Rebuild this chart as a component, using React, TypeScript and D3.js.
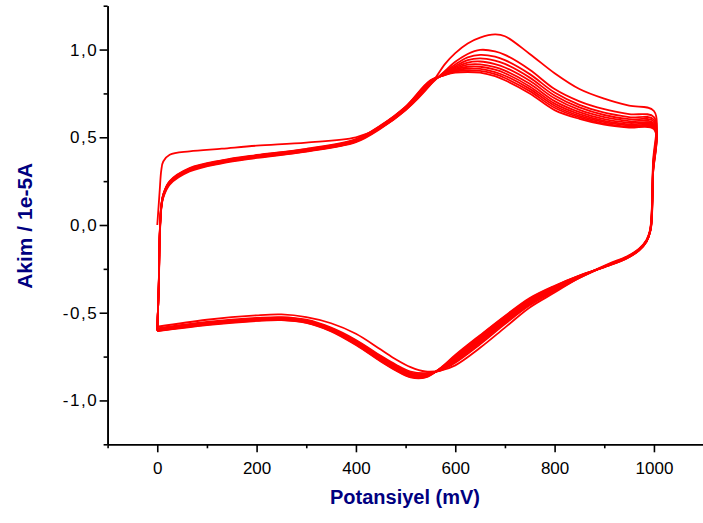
import React, { useEffect, useRef } from "react";
import * as d3 from "d3";

const WIDTH = 703;
const HEIGHT = 523;

// axis extents (mV and 1e-5 A)
const X_DOMAIN = [-100, 1100];
const Y_DOMAIN = [-1.25, 1.25];
const X_MAJOR = [0, 200, 400, 600, 800, 1000];
const X_MINOR = [-100, 100, 300, 500, 700, 900];
const Y_MAJOR = [-1.0, -0.5, 0, 0.5, 1.0];
const Y_MINOR = [-1.25, -0.75, -0.25, 0.25, 0.75, 1.25];

// potentials of the forward (anodic) sweep, mV
const FWD_X = [0, 3, 5, 8, 12, 25, 65, 130, 200, 300, 400, 450, 500, 550, 580, 600, 625, 650, 680, 700, 750, 800, 850, 900, 950, 1000];
// potentials of the reverse (cathodic) sweep, mV
const REV_X = [1000, 998, 995, 992, 985, 970, 945, 910, 850, 800, 750, 700, 650, 600, 570, 540, 510, 480, 450, 400, 350, 300, 250, 200, 100, 0];

// currents, 1e-5 A
const C1_FWD = [0.0, 0.12, 0.2, 0.31, 0.362, 0.4, 0.42, 0.435, 0.452, 0.47, 0.5, 0.555, 0.655, 0.8, 0.92, 0.98, 1.035, 1.068, 1.086, 1.076, 0.975, 0.865, 0.775, 0.72, 0.68, 0.65];
const C1_REV = [0.65, 0.35, 0.05, -0.03, -0.085, -0.135, -0.18, -0.22, -0.3, -0.385, -0.47, -0.585, -0.7, -0.8, -0.83, -0.835, -0.81, -0.765, -0.71, -0.62, -0.56, -0.525, -0.51, -0.515, -0.54, -0.58];
const C2_FWD = [-0.58, -0.36, -0.08, 0.09, 0.155, 0.23, 0.305, 0.352, 0.382, 0.418, 0.472, 0.55, 0.655, 0.8, 0.88, 0.93, 0.975, 0.998, 0.99, 0.97, 0.885, 0.775, 0.705, 0.66, 0.632, 0.615];
const C2_REV = [0.615, 0.33, 0.04, -0.035, -0.088, -0.138, -0.183, -0.223, -0.302, -0.378, -0.458, -0.565, -0.68, -0.785, -0.83, -0.845, -0.835, -0.795, -0.745, -0.655, -0.585, -0.54, -0.525, -0.53, -0.553, -0.59];
const C3_FWD = [-0.59, -0.355, -0.07, 0.095, 0.16, 0.235, 0.309, 0.355, 0.385, 0.42, 0.475, 0.553, 0.66, 0.805, 0.875, 0.915, 0.955, 0.97, 0.96, 0.94, 0.86, 0.755, 0.685, 0.64, 0.615, 0.6];
const C3_REV = [0.6, 0.32, 0.035, -0.037, -0.089, -0.139, -0.184, -0.224, -0.3, -0.373, -0.451, -0.557, -0.671, -0.778, -0.828, -0.849, -0.841, -0.801, -0.75, -0.66, -0.589, -0.543, -0.528, -0.533, -0.556, -0.593];
const C4_FWD = [-0.593, -0.35, -0.065, 0.098, 0.163, 0.238, 0.312, 0.357, 0.387, 0.422, 0.477, 0.556, 0.663, 0.81, 0.87, 0.905, 0.94, 0.95, 0.937, 0.918, 0.84, 0.738, 0.67, 0.627, 0.603, 0.59];
const C4_REV = [0.59, 0.31, 0.03, -0.038, -0.09, -0.14, -0.185, -0.225, -0.298, -0.368, -0.445, -0.55, -0.663, -0.771, -0.826, -0.853, -0.846, -0.806, -0.755, -0.664, -0.592, -0.546, -0.53, -0.535, -0.558, -0.596];
const C5_FWD = [-0.596, -0.348, -0.06, 0.1, 0.165, 0.24, 0.314, 0.359, 0.389, 0.424, 0.479, 0.558, 0.665, 0.812, 0.865, 0.898, 0.926, 0.932, 0.917, 0.898, 0.822, 0.722, 0.656, 0.615, 0.592, 0.58];
const C5_REV = [0.58, 0.305, 0.025, -0.039, -0.091, -0.141, -0.186, -0.226, -0.296, -0.364, -0.439, -0.543, -0.656, -0.765, -0.824, -0.856, -0.851, -0.811, -0.76, -0.668, -0.595, -0.548, -0.532, -0.537, -0.56, -0.598];
const C6_FWD = [-0.598, -0.346, -0.056, 0.102, 0.167, 0.242, 0.316, 0.361, 0.391, 0.426, 0.481, 0.56, 0.667, 0.815, 0.862, 0.892, 0.914, 0.916, 0.9, 0.88, 0.805, 0.706, 0.643, 0.603, 0.582, 0.572];
const C6_REV = [0.572, 0.3, 0.02, -0.04, -0.092, -0.142, -0.187, -0.227, -0.294, -0.36, -0.434, -0.537, -0.649, -0.759, -0.822, -0.859, -0.855, -0.815, -0.764, -0.672, -0.598, -0.55, -0.534, -0.539, -0.562, -0.6];
const C7_FWD = [-0.6, -0.344, -0.052, 0.104, 0.169, 0.244, 0.318, 0.363, 0.393, 0.428, 0.483, 0.562, 0.669, 0.817, 0.86, 0.886, 0.902, 0.902, 0.885, 0.865, 0.79, 0.692, 0.632, 0.594, 0.574, 0.565];
const C7_REV = [0.565, 0.295, 0.015, -0.041, -0.093, -0.143, -0.188, -0.228, -0.292, -0.356, -0.429, -0.531, -0.643, -0.754, -0.82, -0.862, -0.859, -0.819, -0.768, -0.675, -0.6, -0.552, -0.536, -0.541, -0.564, -0.602];
const C8_FWD = [-0.602, -0.342, -0.048, 0.106, 0.171, 0.246, 0.32, 0.365, 0.395, 0.43, 0.485, 0.564, 0.671, 0.82, 0.858, 0.88, 0.892, 0.89, 0.872, 0.851, 0.776, 0.68, 0.622, 0.586, 0.567, 0.558];
const C8_REV = [0.558, 0.29, 0.01, -0.042, -0.094, -0.144, -0.189, -0.229, -0.29, -0.352, -0.424, -0.526, -0.637, -0.749, -0.818, -0.865, -0.863, -0.823, -0.772, -0.678, -0.602, -0.554, -0.538, -0.543, -0.566, -0.603];
const C9_FWD = [-0.603, -0.34, -0.045, 0.108, 0.173, 0.248, 0.322, 0.367, 0.397, 0.432, 0.487, 0.566, 0.673, 0.822, 0.856, 0.875, 0.882, 0.878, 0.86, 0.838, 0.763, 0.668, 0.613, 0.578, 0.56, 0.552];
const C9_REV = [0.552, 0.285, 0.005, -0.043, -0.095, -0.145, -0.19, -0.23, -0.289, -0.349, -0.42, -0.522, -0.632, -0.745, -0.817, -0.867, -0.866, -0.826, -0.775, -0.681, -0.604, -0.556, -0.54, -0.545, -0.568, -0.604];
const C10_FWD = [-0.604, -0.338, -0.042, 0.11, 0.175, 0.25, 0.324, 0.369, 0.399, 0.434, 0.489, 0.568, 0.675, 0.825, 0.855, 0.868, 0.872, 0.868, 0.848, 0.825, 0.75, 0.655, 0.605, 0.572, 0.555, 0.546];
const C10_REV = [0.546, 0.28, 0.0, -0.044, -0.096, -0.146, -0.191, -0.231, -0.288, -0.346, -0.416, -0.518, -0.628, -0.741, -0.816, -0.869, -0.869, -0.829, -0.778, -0.684, -0.606, -0.558, -0.542, -0.547, -0.57, -0.605];

const CYCLES = [
  [C1_FWD, C1_REV],
  [C2_FWD, C2_REV],
  [C3_FWD, C3_REV],
  [C4_FWD, C4_REV],
  [C5_FWD, C5_REV],
  [C6_FWD, C6_REV],
  [C7_FWD, C7_REV],
  [C8_FWD, C8_REV],
  [C9_FWD, C9_REV],
  [C10_FWD, C10_REV],
];

const locale = d3.formatLocale({ decimal: ",", thousands: ".", grouping: [3], currency: ["", ""], minus: "-" });
const yFormat = locale.format(".1f");
const xFormat = locale.format("d");

const FONT = "'Liberation Sans', Arial, sans-serif";

export default function App() {
  const xAxisRef = useRef<SVGGElement>(null);
  const yAxisRef = useRef<SVGGElement>(null);

  const x = d3.scaleLinear().domain(X_DOMAIN).range([107.6, 703.6]);
  const y = d3.scaleLinear().domain(Y_DOMAIN).range([444.3, 5.7]);

  const line = d3
    .line<[number, number]>()
    .x((d) => x(d[0]))
    .y((d) => y(d[1]))
    .curve(d3.curveCatmullRom.alpha(0.5));

  const paths = CYCLES.map(([fwd, rev]) => {
    const pts: [number, number][] = fwd.map((v, i) => [FWD_X[i], v]);
    rev.forEach((v, i) => {
      if (i > 0) pts.push([REV_X[i], v]);
    });
    return line(pts);
  });

  useEffect(() => {
    const gx = d3.select(xAxisRef.current);
    gx.selectAll("*").remove();
    gx.append("g").call(
      d3.axisBottom(x).tickValues(X_MINOR).tickSize(4).tickSizeOuter(0).tickFormat(() => "")
    );
    gx.append("g").call(
      d3.axisBottom(x).tickValues(X_MAJOR).tickSize(8).tickSizeOuter(0).tickPadding(9.6).tickFormat((d) => xFormat(d as number))
    );

    const gy = d3.select(yAxisRef.current);
    gy.selectAll("*").remove();
    gy.append("g").call(
      d3.axisLeft(y).tickValues(Y_MINOR).tickSize(4).tickSizeOuter(0).tickFormat(() => "")
    );
    gy.append("g").call(
      d3.axisLeft(y).tickValues(Y_MAJOR).tickSize(8).tickSizeOuter(0).tickPadding(3).tickFormat((d) => yFormat(d as number))
    );

    [gx, gy].forEach((g) => {
      g.selectAll("g").attr("font-size", 17).attr("font-family", FONT);
      g.selectAll("path, line").attr("stroke", "#000").attr("stroke-width", 1.6);
      g.selectAll("text").attr("fill", "#000");
    });
    gy.selectAll("text").attr("letter-spacing", 1.5).attr("dx", 1.5);
  });

  return (
    <svg width={WIDTH} height={HEIGHT} style={{ position: "absolute", left: 0, top: 0, background: "#fff" }}>
      <g>
        {paths.map((d, i) => (
          <path key={i} d={d ?? ""} fill="none" stroke="#ff0000" strokeWidth={1.8} strokeLinejoin="round" />
        ))}
      </g>
      <g ref={xAxisRef} transform={`translate(0,${y(-1.25)})`} />
      <g ref={yAxisRef} transform={`translate(${x(-100)},0)`} />
      <text x={405} y={504} textAnchor="middle" fontFamily={FONT} fontWeight="bold" fontSize={20} fill="#000080">
        Potansiyel (mV)
      </text>
      <text transform="translate(31.5,225.8) rotate(-90)" textAnchor="middle" fontFamily={FONT} fontWeight="bold" fontSize={21} fill="#000080">
        Akim / 1e-5A
      </text>
    </svg>
  );
}
